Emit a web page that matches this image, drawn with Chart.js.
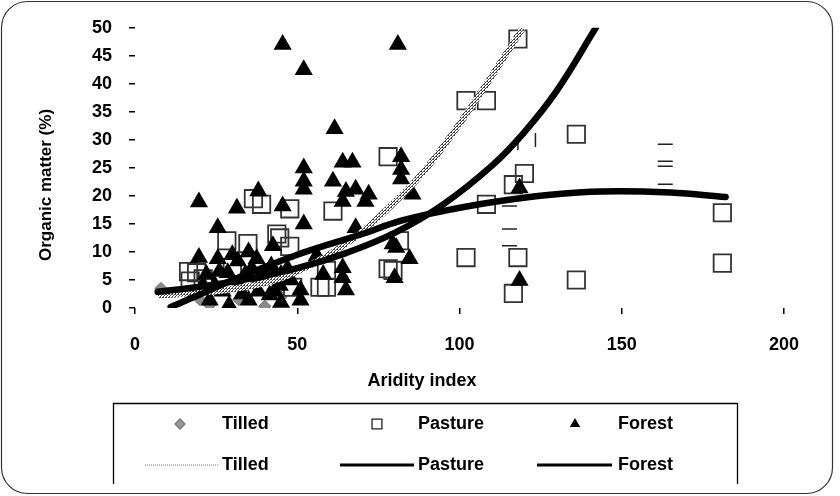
<!DOCTYPE html>
<html><head><meta charset="utf-8">
<script src="https://cdn.jsdelivr.net/npm/chart.js@4.4.1/dist/chart.umd.min.js"></script>
<style>html,body{margin:0;padding:0;background:#fff}#wrap{width:840px;height:496px;position:relative}</style>
</head><body><div id="wrap"><canvas id="c" width="840" height="496"></canvas></div>
<script>
// ---- data ----
const seriesNames = ['Tilled', 'Pasture', 'Forest'];
const xTitle = 'Aridity index';
const yTitle = 'Organic matter (%)';
const xTicks = [0, 50, 100, 150, 200];
const yTicks = [0, 5, 10, 15, 20, 25, 30, 35, 40, 45, 50];

const tilledX = [8, 20, 23, 29, 32, 40, 45];
const tilledY = [3.5, 1.5, 0.5, 0.3, 1.5, 0.3, 2];

const pastureX = [118, 102, 108.3, 136, 120, 116.6, 108.3, 102, 118, 116.6, 136, 181, 181, 78, 39, 36.5, 47.7, 61, 44.6, 28.3, 34.8, 16.5, 19, 17, 21, 30, 57, 59, 59, 78, 79.5, 81.5, 48.6, 47.7, 43.7];
const pastureY = [48, 37, 37, 31, 24, 22, 18.5, 9, 9, 2.6, 5, 17, 8, 27, 18.5, 19.5, 17.7, 17.3, 12.5, 12, 11.5, 6.5, 6.3, 4.8, 5.2, 7.2, 3.7, 3.7, 6.7, 7, 6.7, 12, 3.7, 11, 13.2];

const forestX = [45.5, 81, 52, 61.5, 64, 67, 82, 82, 82, 52, 52, 52, 61, 65, 68, 72, 85.5, 19.7, 31.4, 38, 45.5, 52, 25.5, 42.5, 64, 71, 80.5, 84.6, 80, 64, 65, 51, 51, 118.5, 118.5, 19.7, 25.5, 31.7, 37.5, 28.6, 23, 29, 35, 41.5, 32, 24.6, 38, 44.6, 68, 79.4, 64, 56, 47, 34, 42, 22, 38, 45, 27, 33, 36, 40, 26, 30, 45, 48, 35, 43, 21, 58];
const forestY = [47, 47, 42.5, 32, 26, 26, 27, 24.7, 23, 25, 22.6, 21.2, 22.6, 20.8, 21.2, 20.3, 20.3, 18.9, 17.8, 20.9, 18.2, 15, 14.3, 11.1, 19, 19, 10.8, 8.8, 5.4, 5.4, 3.2, 3.2, 1.4, 21.4, 4.9, 9, 8.8, 8.4, 8.8, 6.3, 1.4, 0.5, 1.4, 2.3, 4, 4, 5, 4, 14.3, 11.4, 7.2, 9.3, 7, 6, 7.5, 6, 3, 1, 3, 2.5, 7, 6, 6.5, 9.5, 6, 5, 10, 3, 4, 6];

// trend curves
const tilledFitX = [8, 20, 30, 41.5, 51.7, 62, 71.4, 84.6, 91.7, 102, 112, 119];
const tilledFitY = [2.3, 2.8, 3.4, 4.7, 7.0, 10.3, 14.3, 21.5, 26.3, 34.5, 43.2, 49.5];
const pastureFitX = [7, 20, 35, 50, 65, 80, 95, 110, 120, 130, 142];
const pastureFitY = [2.9, 3.8, 5.2, 7.1, 9.8, 13.4, 18.5, 25.4, 31.4, 38.8, 50];
const forestFitX = [11, 20, 30, 40, 50, 60, 70, 81.5, 95, 108, 128, 144, 165, 182];
const forestFitY = [0.2, 2.4, 5.0, 7.3, 9.5, 11.4, 13.2, 15.5, 17.3, 18.7, 20.2, 20.8, 20.6, 19.8];

// stray dash marks visible in the plot
const hDashX = [163.4, 163.4, 163.4, 163.4, 115.4, 115.4, 115.4];
const hDashY = [29.2, 26.2, 25.3, 22.1, 18.2, 14.1, 11.1];
const vDashX = [118, 123.4];
const vDashY = [29.4, 30];

// ---- rendering ----
const FONT = '"Liberation Sans", Arial, sans-serif';
function pts(xs, ys) { return xs.map((x, i) => ({ x: x, y: ys[i] })); }

const pc = document.createElement('canvas');
pc.width = 3; pc.height = 3;
const pctx = pc.getContext('2d');
pctx.fillStyle = '#ffffff'; pctx.fillRect(0, 0, 3, 3);
pctx.fillStyle = '#444444'; pctx.fillRect(0, 0, 2, 1); pctx.fillRect(1, 2, 1, 1); pctx.fillRect(2, 1, 1, 1);
const dotPattern = pctx.createPattern(pc, 'repeat');

const frame = {
  id: 'frame',
  afterDraw(chart) {
    const ctx = chart.ctx;
    ctx.save();
    ctx.strokeStyle = '#333'; ctx.lineWidth = 1.2;
    ctx.beginPath();
    ctx.roundRect(1.5, 1.5, 831, 492, 26);
    ctx.stroke();
    // axis titles
    ctx.fillStyle = '#000';
    ctx.font = 'bold 18px ' + FONT;
    ctx.textAlign = 'center'; ctx.textBaseline = 'middle';
    ctx.fillText(xTitle, 422, 381);
    ctx.translate(46, 185); ctx.rotate(-Math.PI / 2);
    ctx.font = 'bold 17px ' + FONT;
    ctx.fillText(yTitle, 0, 0);
    ctx.restore();

    // legend
    ctx.save();
    ctx.strokeStyle = '#000'; ctx.lineWidth = 1.3;
    ctx.beginPath();
    ctx.moveTo(113.5, 484); ctx.lineTo(113.5, 403.5); ctx.lineTo(737.5, 403.5); ctx.lineTo(737.5, 484);
    ctx.stroke();
    ctx.font = 'bold 18px ' + FONT; ctx.fillStyle = '#000';
    ctx.textAlign = 'left'; ctx.textBaseline = 'middle';
    const r1 = 424, r2 = 465;
    const textX = [222, 418, 618];
    const markX = [180, 377, 575];
    const lineX = [[145, 218], [340, 414], [537, 612]];
    for (let i = 0; i < 3; i++) {
      ctx.fillText(seriesNames[i], textX[i], r1);
      ctx.fillText(seriesNames[i], textX[i], r2);
    }
    ctx.fillStyle = '#999'; ctx.strokeStyle = '#777';
    Chart.helpers.drawPoint(ctx, { pointStyle: 'rectRot', radius: 5, rotation: 0, borderWidth: 1 }, markX[0], r1);
    ctx.fillStyle = 'rgba(0,0,0,0)'; ctx.strokeStyle = '#222';
    Chart.helpers.drawPoint(ctx, { pointStyle: 'rect', radius: 7, rotation: 0, borderWidth: 1.3 }, markX[1], r1);
    ctx.fillStyle = '#000'; ctx.strokeStyle = '#000';
    Chart.helpers.drawPoint(ctx, { pointStyle: 'triangle', radius: 6, rotation: 0, borderWidth: 0 }, markX[2], r1);
    ctx.lineCap = 'butt';
    ctx.strokeStyle = '#aaa'; ctx.lineWidth = 1.5; ctx.setLineDash([1, 1]);
    ctx.beginPath(); ctx.moveTo(lineX[0][0], r2); ctx.lineTo(lineX[0][1], r2); ctx.stroke();
    ctx.setLineDash([]);
    ctx.strokeStyle = '#000'; ctx.lineWidth = 3;
    for (let i = 1; i < 3; i++) {
      ctx.beginPath(); ctx.moveTo(lineX[i][0], r2); ctx.lineTo(lineX[i][1], r2); ctx.stroke();
    }
    ctx.restore();
  }
};

const fitStyle = { showLine: true, pointRadius: 0, pointHoverRadius: 0, tension: 0.4, fill: false, borderCapStyle: 'round' };

new Chart(document.getElementById('c'), {
  type: 'scatter',
  data: {
    datasets: [
      Object.assign({ label: seriesNames[0] + ' fit', data: pts(tilledFitX, tilledFitY), borderColor: dotPattern, borderWidth: 6.5, order: 2 }, fitStyle),
      Object.assign({ label: seriesNames[1] + ' fit', data: pts(pastureFitX, pastureFitY), borderColor: '#000', borderWidth: 6.5, order: 1 }, fitStyle),
      Object.assign({ label: seriesNames[2] + ' fit', data: pts(forestFitX, forestFitY), borderColor: '#000', borderWidth: 6.5, order: 0 }, fitStyle),
      { label: seriesNames[2], data: pts(forestX, forestY), pointStyle: 'triangle', pointRadius: 10.5, backgroundColor: '#000', borderColor: '#000', borderWidth: 0, order: 3 },
      { label: seriesNames[1], data: pts(pastureX, pastureY), pointStyle: 'rect', pointRadius: 12.3, backgroundColor: 'rgba(0,0,0,0)', borderColor: '#333', borderWidth: 1.8, order: 4 },
      { label: seriesNames[0], data: pts(tilledX, tilledY), pointStyle: 'rectRot', pointRadius: 6, backgroundColor: '#8a8a8a', borderColor: '#666', borderWidth: 1, order: 5 },
      { label: 'dash', data: pts(hDashX, hDashY), pointStyle: 'line', pointRadius: 7.5, borderColor: '#222', borderWidth: 1.5, order: 6 },
      { label: 'vdash', data: pts(vDashX, vDashY), pointStyle: 'line', pointRotation: 90, pointRadius: 7, borderColor: '#222', borderWidth: 1.5, order: 6 }
    ]
  },
  options: {
    responsive: false, animation: false, devicePixelRatio: 1,
    layout: { padding: { left: 0, right: 56, top: 26, bottom: 0 } },
    plugins: { legend: { display: false }, tooltip: { enabled: false } },
    scales: {
      x: {
        type: 'linear', min: 0, max: 200,
        afterBuildTicks: s => { s.ticks = xTicks.map(v => ({ value: v })); },
        afterFit: s => { s.height = 188; },
        grid: { drawOnChartArea: false, drawTicks: true, tickLength: 6, color: '#000', lineWidth: 1.5 },
        border: { display: false },
        ticks: { color: '#000', padding: 20, maxRotation: 0, font: { family: FONT, size: 18, weight: 'bold' } }
      },
      y: {
        type: 'linear', min: 0, max: 50,
        afterBuildTicks: s => { s.ticks = yTicks.map(v => ({ value: v })); },
        afterFit: s => { s.width = 135; },
        grid: { drawOnChartArea: false, drawTicks: true, tickLength: 6, color: '#000', lineWidth: 1.5 },
        border: { display: false },
        ticks: { color: '#000', padding: 17, font: { family: FONT, size: 18, weight: 'bold' } }
      }
    }
  },
  plugins: [frame]
});
</script>
</body></html>
